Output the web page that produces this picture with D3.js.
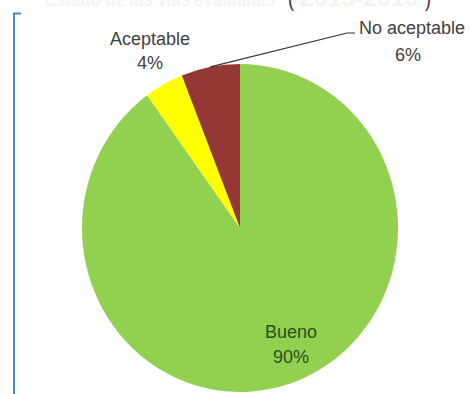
<!DOCTYPE html>
<html>
<head>
<meta charset="utf-8">
<script src="https://cdn.jsdelivr.net/npm/d3@7"></script>
<style>
  html, body { margin: 0; padding: 0; background: #fff; }
  svg { display: block; }
</style>
</head>
<body>
<svg id="chart" width="470" height="394"></svg>
<script>
// Share of each rating category
const categories = ["Bueno", "Aceptable", "No aceptable"];
const values = [90, 4, 6];
const colors = ["#92D050", "#FFFF00", "#953735"];

const W = 470, H = 394;
const cx = 240, cy = 228, rx = 158, ry = 164;

const svg = d3.select("#chart");

// Title, mostly clipped off the top edge: washed-out words, dark parentheses
const titleParts = [
  { text: "Estado de las vías evaluadas", x: 45,  len: 230, fill: "#f6f4ef", weight: "bold" },
  { text: "(",                            x: 288, len: 6,   fill: "#333333", weight: "normal" },
  { text: "2015-2016",                    x: 300, len: 118, fill: "#f5f3ee", weight: "bold" },
  { text: ")",                            x: 425, len: 6,   fill: "#333333", weight: "normal" }
];
svg.selectAll("text.title")
  .data(titleParts)
  .join("text")
  .attr("class", "title")
  .attr("x", d => d.x).attr("y", 6)
  .attr("textLength", d => d.len).attr("lengthAdjust", "spacingAndGlyphs")
  .attr("font-family", "Liberation Sans, Arial, sans-serif")
  .attr("font-weight", d => d.weight).attr("font-size", 22)
  .attr("fill", d => d.fill)
  .text(d => d.text);

// Frame edge on the left
svg.append("path")
  .attr("d", `M21,13.5 H14 V${H}`)
  .attr("fill", "none")
  .attr("stroke", "#4a86c8")
  .attr("stroke-width", 2);

const data = categories.map((c, i) => ({ name: c, value: values[i], color: colors[i] }));

const pie = d3.pie().value(d => d.value).sort(null);
const arcs = pie(data);
const arc = d3.arc().innerRadius(0).outerRadius(rx);

// Slices (pie is drawn slightly taller than wide)
svg.append("g")
  .attr("transform", `translate(${cx},${cy}) scale(1,${ry / rx})`)
  .selectAll("path.slice")
  .data(arcs)
  .join("path")
  .attr("class", "slice")
  .attr("d", arc)
  .attr("fill", d => d.data.color)
  .attr("stroke", "none");

const g = svg.append("g").attr("transform", `translate(${cx},${cy})`);

// Label placement for each slice (relative to the pie centre)
const labelLayout = {
  "Bueno":        { dx: 51,  dy: 110,  gap: 25, pdx: 0,  fill: "#2b4f17" },
  "Aceptable":    { dx: -90, dy: -183, gap: 24, pdx: 0,  fill: "#404040" },
  "No aceptable": { dx: 172, dy: -194, gap: 27, pdx: -4, fill: "#404040", leader: true }
};

arcs.forEach(a => {
  const L = labelLayout[a.data.name];
  const t = g.append("text")
    .attr("text-anchor", "middle")
    .attr("font-family", "Liberation Sans, Arial, sans-serif")
    .attr("font-size", 18)
    .attr("fill", L.fill);
  t.append("tspan").attr("x", L.dx).attr("y", L.dy).text(a.data.name);
  t.append("tspan").attr("x", L.dx + L.pdx).attr("y", L.dy + L.gap)
    .text(a.data.value + "%");

  if (L.leader) {
    const mid = (a.startAngle + a.endAngle) / 2;
    const sx = rx * Math.sin(mid), sy = -ry * Math.cos(mid);
    const ex = L.dx - 57, ey = L.dy - 1;
    g.append("path")
      .attr("d", `M${sx},${sy} L${ex - 8},${ey} H${ex}`)
      .attr("fill", "none")
      .attr("stroke", "#333")
      .attr("stroke-width", 1.2);
  }
});
</script>
</body>
</html>
